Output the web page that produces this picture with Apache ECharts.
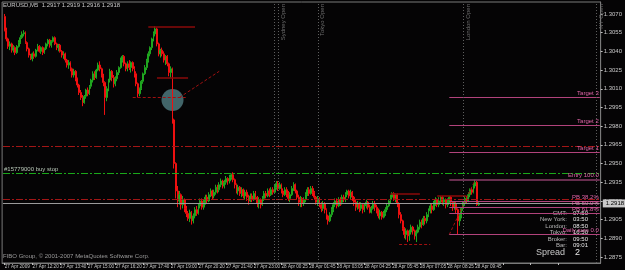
<!DOCTYPE html>
<html><head><meta charset="utf-8">
<script src="https://cdn.jsdelivr.net/npm/echarts@6/dist/echarts.min.js"></script>
<style>html,body{margin:0;padding:0;background:#050405;}#c{width:625px;height:270px;}</style>
</head><body><div id="c"></div>
<script>
// ---- data ----
const xTickLabels = ['27 Apr 2009','27 Apr 12:20','27 Apr 13:40','27 Apr 15:00','27 Apr 16:20','27 Apr 17:40','27 Apr 19:00','27 Apr 20:20','27 Apr 21:40','27 Apr 23:00','28 Apr 00:25','28 Apr 01:45','28 Apr 03:05','28 Apr 04:25','28 Apr 05:45','28 Apr 07:05','28 Apr 08:25','28 Apr 09:45'];
const yTickLabels = [1.2875,1.2890,1.2905,1.2920,1.2935,1.2950,1.2965,1.2980,1.2995,1.3010,1.3025,1.3040,1.3055,1.3070];
const totalSlots = 345;
// [open, close, low, high]
const bars = [
[1.3068,1.3057,1.3056,1.3070],[1.3057,1.3050,1.3048,1.3059],[1.3050,1.3044,1.3042,1.3051],[1.3044,1.3046,1.3041,1.3048],[1.3046,1.3041,1.3039,1.3047],
[1.3041,1.3043,1.3039,1.3045],[1.3043,1.3039,1.3037,1.3044],[1.3039,1.3044,1.3038,1.3045],[1.3044,1.3047,1.3043,1.3049],[1.3047,1.3051,1.3046,1.3053],
[1.3051,1.3054,1.3050,1.3056],[1.3054,1.3055,1.3052,1.3057],[1.3055,1.3047,1.3046,1.3056],[1.3047,1.3042,1.3040,1.3048],[1.3042,1.3037,1.3035,1.3043],
[1.3037,1.3034,1.3033,1.3038],[1.3034,1.3038,1.3032,1.3039],[1.3038,1.3036,1.3034,1.3040],[1.3036,1.3041,1.3035,1.3042],[1.3041,1.3044,1.3040,1.3046],
[1.3044,1.3040,1.3039,1.3045],[1.3040,1.3043,1.3038,1.3044],[1.3043,1.3039,1.3037,1.3044],[1.3039,1.3042,1.3038,1.3043],[1.3042,1.3046,1.3041,1.3047],
[1.3046,1.3049,1.3044,1.3050],[1.3049,1.3045,1.3043,1.3050],[1.3045,1.3048,1.3043,1.3049],[1.3048,1.3051,1.3047,1.3052],[1.3051,1.3046,1.3045,1.3052],
[1.3046,1.3043,1.3041,1.3047],[1.3043,1.3045,1.3040,1.3046],[1.3045,1.3040,1.3039,1.3046],[1.3040,1.3037,1.3035,1.3041],[1.3037,1.3038,1.3034,1.3040],
[1.3038,1.3033,1.3031,1.3039],[1.3033,1.3029,1.3027,1.3034],[1.3029,1.3031,1.3026,1.3033],[1.3031,1.3026,1.3024,1.3032],[1.3026,1.3021,1.3019,1.3027],
[1.3021,1.3024,1.3019,1.3026],[1.3024,1.3018,1.3016,1.3025],[1.3018,1.3013,1.3011,1.3019],[1.3013,1.3007,1.3005,1.3014],[1.3007,1.3003,1.3001,1.3009],
[1.3003,1.2999,1.2996,1.3005],[1.2999,1.3004,1.2998,1.3005],[1.3004,1.3009,1.3002,1.3010],[1.3009,1.3006,1.3004,1.3011],[1.3006,1.3012,1.3005,1.3013],
[1.3012,1.3017,1.3010,1.3018],[1.3017,1.3022,1.3015,1.3024],[1.3022,1.3019,1.3017,1.3024],[1.3019,1.3025,1.3018,1.3026],[1.3025,1.3029,1.3024,1.3031],
[1.3029,1.3026,1.3024,1.3032],[1.3026,1.3021,1.3019,1.3027],[1.3021,1.3015,1.3012,1.3022],[1.3015,1.3003,1.2989,1.3016],[1.3003,1.3010,1.3000,1.3012],
[1.3010,1.3017,1.3008,1.3018],[1.3017,1.3024,1.3015,1.3026],[1.3024,1.3019,1.3016,1.3025],[1.3019,1.3014,1.3011,1.3021],[1.3014,1.3018,1.3012,1.3020],
[1.3018,1.3023,1.3016,1.3025],[1.3023,1.3027,1.3021,1.3028],[1.3027,1.3033,1.3026,1.3035],[1.3033,1.3036,1.3031,1.3037],[1.3036,1.3030,1.3028,1.3037],
[1.3030,1.3026,1.3024,1.3031],[1.3026,1.3030,1.3024,1.3032],[1.3030,1.3027,1.3025,1.3033],[1.3027,1.3031,1.3023,1.3032],[1.3031,1.3026,1.3024,1.3032],
[1.3026,1.3022,1.3019,1.3028],[1.3022,1.3014,1.3012,1.3024],[1.3014,1.3006,1.3003,1.3015],[1.3006,1.3010,1.3004,1.3011],[1.3010,1.3016,1.3009,1.3017],
[1.3016,1.3022,1.3014,1.3023],[1.3022,1.3027,1.3021,1.3029],[1.3027,1.3033,1.3025,1.3034],[1.3033,1.3038,1.3031,1.3040],[1.3038,1.3043,1.3036,1.3044],
[1.3043,1.3050,1.3041,1.3051],[1.3050,1.3054,1.3048,1.3056],[1.3054,1.3058,1.3052,1.3060],[1.3058,1.3046,1.3044,1.3059],[1.3046,1.3038,1.3036,1.3047],
[1.3038,1.3041,1.3035,1.3042],[1.3041,1.3038,1.3036,1.3043],[1.3038,1.3033,1.3031,1.3040],[1.3033,1.3036,1.3029,1.3037],[1.3036,1.3030,1.3028,1.3037],
[1.3030,1.3023,1.3020,1.3031],[1.3023,1.3026,1.3019,1.3028],[1.3026,1.2985,1.2982,1.3027],[1.2985,1.2950,1.2946,1.2986],[1.2950,1.2928,1.2922,1.2951],
[1.2928,1.2920,1.2915,1.2932],[1.2920,1.2925,1.2917,1.2928],[1.2925,1.2917,1.2913,1.2926],[1.2917,1.2921,1.2914,1.2924],[1.2921,1.2914,1.2911,1.2922],
[1.2914,1.2910,1.2907,1.2916],[1.2910,1.2906,1.2904,1.2912],[1.2906,1.2911,1.2903,1.2913],[1.2911,1.2904,1.2901,1.2912],[1.2904,1.2908,1.2902,1.2910],
[1.2908,1.2913,1.2906,1.2915],[1.2913,1.2910,1.2908,1.2916],[1.2910,1.2916,1.2909,1.2918],[1.2916,1.2920,1.2914,1.2922],[1.2920,1.2915,1.2913,1.2922],
[1.2915,1.2919,1.2913,1.2921],[1.2919,1.2923,1.2917,1.2925],[1.2923,1.2920,1.2918,1.2925],[1.2920,1.2925,1.2919,1.2927],[1.2925,1.2928,1.2923,1.2930],
[1.2928,1.2924,1.2921,1.2929],[1.2924,1.2927,1.2922,1.2929],[1.2927,1.2931,1.2925,1.2933],[1.2931,1.2929,1.2926,1.2933],[1.2929,1.2933,1.2927,1.2935],
[1.2933,1.2936,1.2931,1.2938],[1.2936,1.2932,1.2930,1.2937],[1.2932,1.2935,1.2930,1.2937],[1.2935,1.2938,1.2933,1.2940],[1.2938,1.2936,1.2933,1.2939],
[1.2936,1.2939,1.2934,1.2941],[1.2939,1.2941,1.2937,1.2942],[1.2941,1.2937,1.2935,1.2943],[1.2937,1.2933,1.2930,1.2938],[1.2933,1.2928,1.2926,1.2934],
[1.2928,1.2931,1.2925,1.2933],[1.2931,1.2926,1.2924,1.2932],[1.2926,1.2929,1.2923,1.2931],[1.2929,1.2924,1.2922,1.2930],[1.2924,1.2927,1.2921,1.2929],
[1.2927,1.2923,1.2920,1.2929],[1.2923,1.2920,1.2917,1.2925],[1.2920,1.2924,1.2919,1.2926],[1.2924,1.2921,1.2919,1.2926],[1.2921,1.2926,1.2920,1.2928],
[1.2926,1.2923,1.2921,1.2928],[1.2923,1.2918,1.2915,1.2924],[1.2918,1.2921,1.2914,1.2923],[1.2921,1.2917,1.2914,1.2922],[1.2917,1.2922,1.2916,1.2924],
[1.2922,1.2926,1.2920,1.2928],[1.2926,1.2924,1.2922,1.2928],[1.2924,1.2928,1.2923,1.2930],[1.2928,1.2925,1.2923,1.2930],[1.2925,1.2929,1.2924,1.2931],
[1.2929,1.2927,1.2925,1.2931],[1.2927,1.2931,1.2926,1.2933],[1.2931,1.2934,1.2929,1.2936],[1.2934,1.2930,1.2928,1.2936],[1.2930,1.2933,1.2929,1.2935],
[1.2933,1.2928,1.2926,1.2934],[1.2928,1.2925,1.2923,1.2930],[1.2925,1.2929,1.2924,1.2931],[1.2929,1.2926,1.2923,1.2931],[1.2926,1.2922,1.2920,1.2928],
[1.2922,1.2925,1.2919,1.2927],[1.2925,1.2930,1.2924,1.2932],[1.2930,1.2933,1.2928,1.2935],[1.2933,1.2928,1.2926,1.2934],[1.2928,1.2923,1.2921,1.2929],
[1.2923,1.2919,1.2916,1.2925],[1.2919,1.2922,1.2915,1.2924],[1.2922,1.2918,1.2915,1.2923],[1.2918,1.2921,1.2916,1.2923],[1.2921,1.2925,1.2919,1.2927],
[1.2925,1.2929,1.2924,1.2931],[1.2929,1.2926,1.2924,1.2931],[1.2926,1.2930,1.2925,1.2932],[1.2930,1.2927,1.2924,1.2932],[1.2927,1.2923,1.2921,1.2928],
[1.2923,1.2919,1.2917,1.2924],[1.2919,1.2922,1.2916,1.2924],[1.2922,1.2917,1.2915,1.2923],[1.2917,1.2914,1.2911,1.2919],[1.2914,1.2918,1.2912,1.2920],
[1.2918,1.2913,1.2910,1.2919],[1.2913,1.2908,1.2905,1.2914],[1.2908,1.2904,1.2901,1.2909],[1.2904,1.2909,1.2903,1.2911],[1.2909,1.2913,1.2907,1.2915],
[1.2913,1.2917,1.2911,1.2919],[1.2917,1.2920,1.2915,1.2922],[1.2920,1.2916,1.2914,1.2922],[1.2916,1.2921,1.2915,1.2923],[1.2921,1.2919,1.2916,1.2923],
[1.2919,1.2923,1.2917,1.2925],[1.2923,1.2921,1.2919,1.2925],[1.2921,1.2925,1.2919,1.2927],[1.2925,1.2928,1.2923,1.2929],[1.2928,1.2924,1.2922,1.2929],
[1.2924,1.2927,1.2921,1.2929],[1.2927,1.2923,1.2920,1.2928],[1.2923,1.2919,1.2916,1.2924],[1.2919,1.2915,1.2912,1.2921],[1.2915,1.2918,1.2913,1.2920],
[1.2918,1.2914,1.2911,1.2919],[1.2914,1.2917,1.2912,1.2919],[1.2917,1.2913,1.2910,1.2918],[1.2913,1.2916,1.2911,1.2918],[1.2916,1.2919,1.2914,1.2921],
[1.2919,1.2915,1.2913,1.2920],[1.2915,1.2911,1.2910,1.2917],[1.2911,1.2914,1.2910,1.2916],[1.2914,1.2918,1.2913,1.2920],[1.2918,1.2915,1.2912,1.2920],
[1.2915,1.2912,1.2910,1.2917],[1.2912,1.2908,1.2906,1.2914],[1.2908,1.2911,1.2905,1.2913],[1.2911,1.2907,1.2905,1.2912],[1.2907,1.2910,1.2906,1.2912],
[1.2910,1.2913,1.2908,1.2915],[1.2913,1.2916,1.2911,1.2918],[1.2916,1.2920,1.2915,1.2921],[1.2920,1.2923,1.2918,1.2925],[1.2923,1.2926,1.2921,1.2927],
[1.2926,1.2922,1.2920,1.2927],[1.2922,1.2925,1.2919,1.2926],[1.2925,1.2918,1.2915,1.2926],[1.2918,1.2909,1.2906,1.2919],[1.2909,1.2904,1.2902,1.2911],
[1.2904,1.2898,1.2896,1.2905],[1.2898,1.2893,1.2890,1.2899],[1.2893,1.2896,1.2889,1.2898],[1.2896,1.2892,1.2887,1.2897],[1.2892,1.2895,1.2888,1.2897],
[1.2895,1.2899,1.2893,1.2901],[1.2899,1.2896,1.2893,1.2900],[1.2896,1.2892,1.2889,1.2897],[1.2892,1.2895,1.2887,1.2897],[1.2895,1.2899,1.2894,1.2901],
[1.2899,1.2903,1.2897,1.2905],[1.2903,1.2901,1.2898,1.2905],[1.2901,1.2906,1.2900,1.2908],[1.2906,1.2904,1.2901,1.2908],[1.2904,1.2909,1.2902,1.2911],
[1.2909,1.2912,1.2907,1.2914],[1.2912,1.2916,1.2910,1.2918],[1.2916,1.2913,1.2910,1.2918],[1.2913,1.2918,1.2912,1.2920],[1.2918,1.2921,1.2916,1.2923],
[1.2921,1.2917,1.2915,1.2922],[1.2917,1.2920,1.2915,1.2923],[1.2920,1.2923,1.2918,1.2924],[1.2923,1.2919,1.2917,1.2924],[1.2919,1.2921,1.2916,1.2923],
[1.2921,1.2917,1.2914,1.2922],[1.2917,1.2920,1.2915,1.2922],[1.2920,1.2923,1.2918,1.2924],[1.2923,1.2919,1.2916,1.2924],[1.2919,1.2915,1.2912,1.2920],
[1.2915,1.2918,1.2913,1.2920],[1.2918,1.2913,1.2910,1.2919],[1.2913,1.2904,1.2893,1.2914],[1.2904,1.2908,1.2900,1.2910],[1.2908,1.2914,1.2906,1.2915],
[1.2914,1.2918,1.2912,1.2920],[1.2918,1.2922,1.2916,1.2924],[1.2922,1.2920,1.2918,1.2924],[1.2920,1.2925,1.2919,1.2927],[1.2925,1.2929,1.2923,1.2930],
[1.2929,1.2927,1.2925,1.2931],[1.2927,1.2932,1.2926,1.2934],[1.2932,1.2935,1.2930,1.2937],[1.2935,1.2917,1.2916,1.2936],[1.2917,1.2918,1.2916,1.2919]
];
const bidPrice = 1.2918;
const redDashDotLevels = [1.2964, 1.2921];
const buyStopLevel = 1.2942;
const buyStopText = '#15779000 buy stop';
const fibNames = ['Target 3','Target 2','Target 1','Entry 100.0','PB 38.2%','PB 50.0%','PB 61.8%','Daily sum 0.0'];
const fibValues = [1.3003, 1.2981, 1.2959, 1.2937, 1.2920, 1.2915, 1.2910, 1.2893];
const fibStart = 257;
// swing lines: [startIndex, endIndex, price]
const solidSwingLines = [[83,110,1.3060],[88,106,1.3019],[223,240,1.2926],[250,267,1.2924]];
const dashedSwingLines = [[74,105,1.3003],[228,246,1.2885]];
// diagonal lines: [i1, p1, i2, p2]
const diagonals = [[101,1.3003,124,1.3024],[257,1.2893,272,1.2937]];
const circlePoint = [97, 1.3001];
const sessionNames = ['Sydney Open','Tokyo Open','London Open','NY Open'];
const sessionIdx = [157.5, 181, 264.5, 342];
const extraSeparator = [155.5];
const infoLabels = ['GMT:','New York:','London:','Tokyo:','Broker:','Bar:'];
const infoValues = ['07:50','03:50','08:50','16:50','09:50','09:01'];
const spreadValue = '2';
const headerText = 'EURUSD,M5  1.2917 1.2919 1.2916 1.2918';
const copyrightText = 'FIBO Group, \u00a9 2001-2007 MetaQuotes Software Corp.';

// ---- chart ----
const FONT = 'Liberation Sans';
const lead = 1; // one empty slot at the left edge
const nCats = totalSlots + lead;
const cats = Array.from({length: nCats}, (_, i) => String(i));
const lastIdx = nCats - 1;
const ml = [];
function hLine(v, lineStyle, label) {
  return [{coord: [0, v], lineStyle: lineStyle, label: label || {show: false}}, {coord: [lastIdx, v]}];
}
function seg(a, va, b, vb, lineStyle, label) {
  return [{coord: [a + lead, va], lineStyle: lineStyle, label: label || {show: false}}, {coord: [b + lead, vb]}];
}
redDashDotLevels.forEach(v => ml.push(hLine(v, {color: '#a31616', type: [7,2,2,2], width: 1})));
ml.push(hLine(buyStopLevel, {color: '#1aa81a', type: [7,2,2,2], width: 1},
  {show: true, position: 'insideStartTop', formatter: buyStopText, color: '#b8c8b8', fontSize: 6, fontFamily: FONT, distance: 1}));
ml.push(hLine(bidPrice, {color: '#9a9a9a', type: 'solid', width: 1},
  {show: true, position: 'end', formatter: bidPrice.toFixed(4), color: '#000', backgroundColor: '#c8c8c8', fontSize: 6, fontFamily: FONT, padding: [1, 3], distance: 3}));
solidSwingLines.forEach(s => ml.push(seg(s[0], s[2], s[1], s[2], {color: '#8a0a0a', type: 'solid', width: 1.5})));
dashedSwingLines.forEach(s => ml.push(seg(s[0], s[2], s[1], s[2], {color: '#a01010', type: [3,2], width: 1})));
diagonals.forEach(d => ml.push(seg(d[0], d[1], d[2], d[3], {color: '#a01010', type: [3,2], width: 1})));
fibNames.forEach((n, k) => ml.push([{coord: [fibStart + lead, fibValues[k]],
  lineStyle: {color: n.startsWith('Entry') ? '#8a3d68' : '#b2437c', type: 'solid', width: n.startsWith('Entry') ? 1.6 : 1},
  label: {show: true, position: 'insideEndTop', formatter: n, color: '#e064a8', fontSize: 6, fontFamily: FONT, distance: 1}},
  {coord: [lastIdx, fibValues[k]]}]));
sessionNames.forEach((n, k) => ml.push({xAxis: sessionIdx[k] + lead, lineStyle: {color: '#5e5e5e', type: [1,2], width: 1},
  label: {show: true, position: 'insideEndBottom', formatter: n, color: '#6e6e6e', fontSize: 6, fontFamily: FONT, distance: 2}}));
extraSeparator.forEach(v => ml.push({xAxis: v + lead, lineStyle: {color: '#5e5e5e', type: [1,2], width: 1}, label: {show: false}}));

const graphics = [
  {type: 'text', left: 3, top: 2, style: {text: headerText, fill: '#c8c8c8', font: '6px "' + FONT + '"'}},
  {type: 'text', left: 3, top: 253, style: {text: copyrightText, fill: '#9a9a9a', font: '6px "' + FONT + '"'}}
];
infoLabels.forEach((t, k) => {
  const y = 210 + k * 6.5;
  graphics.push({type: 'text', x: 567, y: y, style: {text: t, fill: '#b8b8b8', font: '6px "' + FONT + '"', textAlign: 'right'}});
  graphics.push({type: 'text', x: 573, y: y, style: {text: infoValues[k], fill: '#e8e8e8', font: '6px "' + FONT + '"', textAlign: 'left'}});
});
graphics.push({type: 'text', x: 565, y: 248, style: {text: 'Spread', fill: '#c8c8c8', font: '9px "' + FONT + '"', textAlign: 'right'}});
graphics.push({type: 'text', x: 575, y: 248, style: {text: spreadValue, fill: '#e8e8e8', font: '9px "' + FONT + '"', textAlign: 'left'}});

const showLabel = i => i === 0 || (i - lead) % 16 === 0;
const chart = echarts.init(document.getElementById('c'), null, {renderer: 'canvas'});
chart.setOption({
  backgroundColor: '#050405',
  animation: false,
  grid: {left: 0, right: 17, top: 2, bottom: 7, show: true, borderColor: '#7a7a7a', borderWidth: 1},
  xAxis: {
    type: 'category', data: cats, boundaryGap: true,
    axisLine: {lineStyle: {color: '#7a7a7a'}},
    axisTick: {show: true, interval: i => i >= lead && (i - lead) % 16 === 0, alignWithLabel: true, length: 2, lineStyle: {color: '#bdbdbd'}},
    axisLabel: {interval: showLabel, showMinLabel: true, showMaxLabel: false, hideOverlap: false, align: 'left', fontSize: 4.6,
      fontFamily: FONT, color: '#c8c8c8', margin: 1,
      formatter: (v, i) => (i < lead ? '' : (xTickLabels[(i - lead) / 16] || ''))},
    splitLine: {show: false}
  },
  yAxis: {
    type: 'value', position: 'right', min: 1.28702, max: 1.30796, scale: true,
    axisLine: {show: true, lineStyle: {color: '#7a7a7a'}},
    axisTick: {show: true, length: 2, customValues: yTickLabels, lineStyle: {color: '#bdbdbd'}},
    axisLabel: {customValues: yTickLabels, fontSize: 6, fontFamily: FONT, color: '#c8c8c8', margin: 3, formatter: v => v.toFixed(4)},
    splitLine: {show: false}
  },
  graphic: graphics,
  series: [
    {type: 'scatter', data: [[circlePoint[0] + lead, circlePoint[1]]], symbolSize: 22, z: 1,
      itemStyle: {color: 'rgba(104,160,166,0.78)'}, silent: true},
    {type: 'candlestick', z: 3, data: bars.map((b, i) => [i + lead, b[0], b[1], b[2], b[3]]),
      encode: {x: 0, y: [1, 2, 3, 4]}, barWidth: 1.4,
      itemStyle: {color: '#1fa51f', color0: '#ee1010', borderColor: '#1fa51f', borderColor0: '#ee1010', borderWidth: 1},
      markLine: {symbol: ['none', 'none'], silent: true, animation: false, data: ml}}
  ]
});
</script></body></html>
